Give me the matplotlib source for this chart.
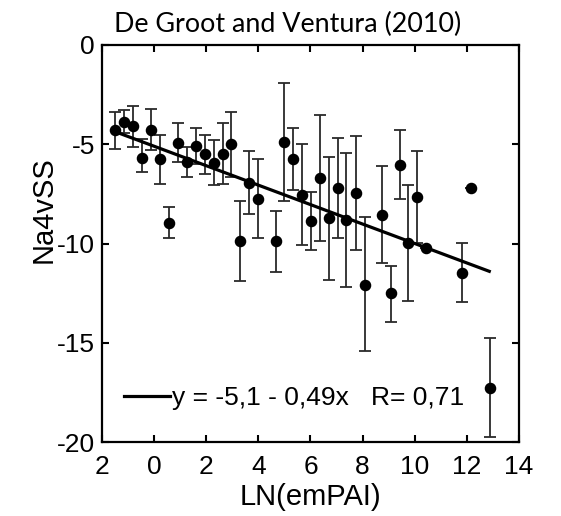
import numpy as np
import matplotlib
matplotlib.use('Agg')
import matplotlib.pyplot as plt

plt.rcParams['font.family'] = ['Liberation Sans', 'DejaVu Sans']
plt.rcParams['axes.unicode_minus'] = False

# Data

ln_empai = [-1.5, -1.14, -0.8, -0.47, -0.12, 0.23, 0.56, 0.91, 1.26, 1.59,
            1.94, 2.28, 2.63, 2.96, 3.31, 3.64, 3.99, 4.67, 5.0, 5.33,
            5.68, 6.03, 6.36, 6.7, 7.05, 7.38, 7.74, 8.08, 8.76, 9.08,
            9.42, 9.75, 10.1, 10.45, 11.83, 12.15, 12.87]
na4vss = [-4.3, -3.86, -4.1, -5.68, -4.28, -5.76, -8.95, -4.92, -5.88, -5.09,
          -5.5, -5.93, -5.5, -5.0, -9.89, -6.94, -7.78, -9.89, -4.87, -5.76,
          -7.56, -8.87, -6.72, -8.73, -7.19, -8.82, -7.47, -12.09, -8.56, -12.5,
          -6.05, -9.96, -7.67, -10.24, -11.47, -7.19, -17.3]
bar_top = [-3.36, -3.27, -3.07, -4.75, -3.24, -4.53, -8.14, -3.91, -5.15, -4.2,
           -4.53, -4.79, -3.95, -3.39, -7.84, -5.32, -5.76, -8.35, -1.9, -4.17,
           -5.0, -7.39, -3.53, -5.66, -4.7, -5.42, -4.58, -8.68, -6.1, -11.12,
           -4.28, -7.05, -5.32, -10.24, -9.99, -7.19, -14.78]
bar_bottom = [-5.25, -4.45, -5.15, -6.41, -5.3, -7.0, -9.74, -5.88, -6.63, -6.0,
              -6.5, -7.07, -7.0, -6.63, -11.89, -8.51, -9.74, -11.42, -7.86, -7.3,
              -10.1, -10.33, -9.87, -11.84, -9.71, -12.17, -10.33, -15.4, -10.97, -13.94,
              -7.78, -12.88, -9.96, -10.24, -12.93, -7.19, -19.76]

fit_intercept = -5.1
fit_slope = -0.49
fit_x = [-1.5, 12.86]
fit_label = 'y = -5,1 - 0,49x   R= 0,71'

x_ticks = [-2, 0, 2, 4, 6, 8, 10, 12, 14]
x_ticklabels = ['2', '0', '2', '4', '6', '8', '10', '12', '14']
y_ticks = [0, -5, -10, -15, -20]
y_ticklabels = ['0', '-5', '-10', '-15', '-20']

x = np.array(ln_empai)
y = np.array(na4vss)
err = [y - np.array(bar_bottom), np.array(bar_top) - y]

fig = plt.figure(figsize=(5.61, 5.16), dpi=100)
ax = fig.add_axes([0.1818, 0.1434, 0.7433, 0.7694])

ax.errorbar(x, y, yerr=err, fmt='none', ecolor='#2a2a2a', elinewidth=1.3,
            capsize=4.5, capthick=1.3)
ax.plot(x, y, 'o', color='black', markersize=7.3)

fx = np.array(fit_x)
ax.plot(fx, fit_intercept + fit_slope * fx, '-', color='black', lw=2.3,
        label=fit_label)

ax.set_xlim(-2, 14)
ax.set_ylim(-20, 0)
ax.set_xticks(x_ticks)
ax.set_xticklabels(x_ticklabels)
ax.set_yticks(y_ticks)
ax.set_yticklabels(y_ticklabels)
ax.tick_params(direction='in', length=5, width=1.5, top=True, right=True,
               labelsize=19)
ax.tick_params(axis='x', pad=9)
ax.tick_params(axis='y', pad=5)
for s in ax.spines.values():
    s.set_linewidth(1.6)

ax.set_xlabel('LN(emPAI)', fontsize=21, labelpad=3)
ax.set_ylabel('Na4vSS', fontsize=21, ha='center', va='center',
              rotation_mode='anchor')
ax.yaxis.set_label_coords(-0.14, 0.585)

ax.legend(loc='center left', bbox_to_anchor=(0.02, 0.11), frameon=False,
          fontsize=19, handlelength=1.75, handletextpad=0.1, borderpad=0)

fig.text(0.5125, 0.953, 'De Groot and Ventura (2010)', ha='center', va='center',
         fontsize=19.4, family=['Lato', 'DejaVu Sans'])

fig.savefig('out.png', dpi=100)
